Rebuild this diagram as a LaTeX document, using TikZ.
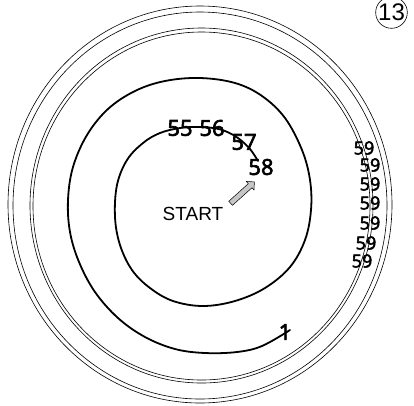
\documentclass[tikz,border=0pt]{standalone}
\usepackage{fontspec}
\setmainfont{Liberation Sans}
\newfontfamily\cifras{Open Sans}[FakeBold=3]
\usetikzlibrary{shapes.arrows}

\tikzset{num/.style={font=\cifras\fontsize{22}{22}\selectfont, inner sep=0pt},
         numc/.style={font=\cifras\fontsize{18}{18}\selectfont, inner sep=0pt},
         aro/.style={line width=0.6pt},
         espiral/.style={line width=1.8pt, line cap=round, line join=round}}

\begin{document}
\begin{tikzpicture}[x=1pt, y=-1pt]
  \useasboundingbox (0,0) rectangle (414,405);
  % anillos exteriores
  \draw[aro] (200,204.5) ellipse [x radius=192, y radius=198.5];
  \draw[aro] (200,205.5) ellipse [x radius=187, y radius=193.5];
  \draw[aro] (201.5,205.5) ellipse [x radius=171.5, y radius=177.5];
  \draw[aro] (201.5,206) ellipse [x radius=168.5, y radius=174];
  % espiral
  \draw[espiral] plot[smooth, tension=0.6] coordinates {
    (258,161) (250,149) (238,138) (225,131) (213,128) (197,127) (180,128)
    (160,133) (143,143) (127,160) (117,185) (115,217) (120,245) (132,270)
    (150,288) (173,301) (203,306) (235,301) (265,288) (290,267) (305,240)
    (311,210) (310,180) (302,150) (285,118) (262,96) (235,83) (200,78)
    (165,81) (135,91) (108,109) (87,135) (73,167) (68,200) (70,232)
    (79,262) (95,292) (118,318) (145,337) (175,349) (205,353) (237,352)
    (262,346) (290,330)};
  % etiquetas
  \node[num] (n55) at (180,128) {55};
  \node[num] (n56) at (212,128) {56};
  \node[num] (n57) at (244,142) {57};
  \node[num] (n58) at (261,167) {58};
  \node[num] (n1) at (285,332) {1};
  \node[numc] (a) at (364,148) {59};
  \node[numc] (b) at (370,165) {59};
  \node[numc] (c) at (370,184) {59};
  \node[numc] (d) at (370,203) {59};
  \node[numc] (e) at (370,223) {59};
  \node[numc] (f) at (366,243) {59};
  \node[numc] (g) at (362,261) {59};
  \node[font=\fontsize{19}{19}\selectfont, inner sep=0pt] (start) at (193,214) {START};
  \node[single arrow, draw, fill=gray!45, line width=0.5pt, inner sep=2.5pt,
        single arrow head extend=3pt, minimum height=32pt, rotate=42] (flecha) at (241.5,193.5) {};
  % numero de pagina
  \node[draw, circle, line width=0.6pt, minimum size=26pt, inner sep=0pt,
        font=\fontsize{24}{24}\selectfont] (pag) at (391.5,12.5) {13};
\end{tikzpicture}
\end{document}
